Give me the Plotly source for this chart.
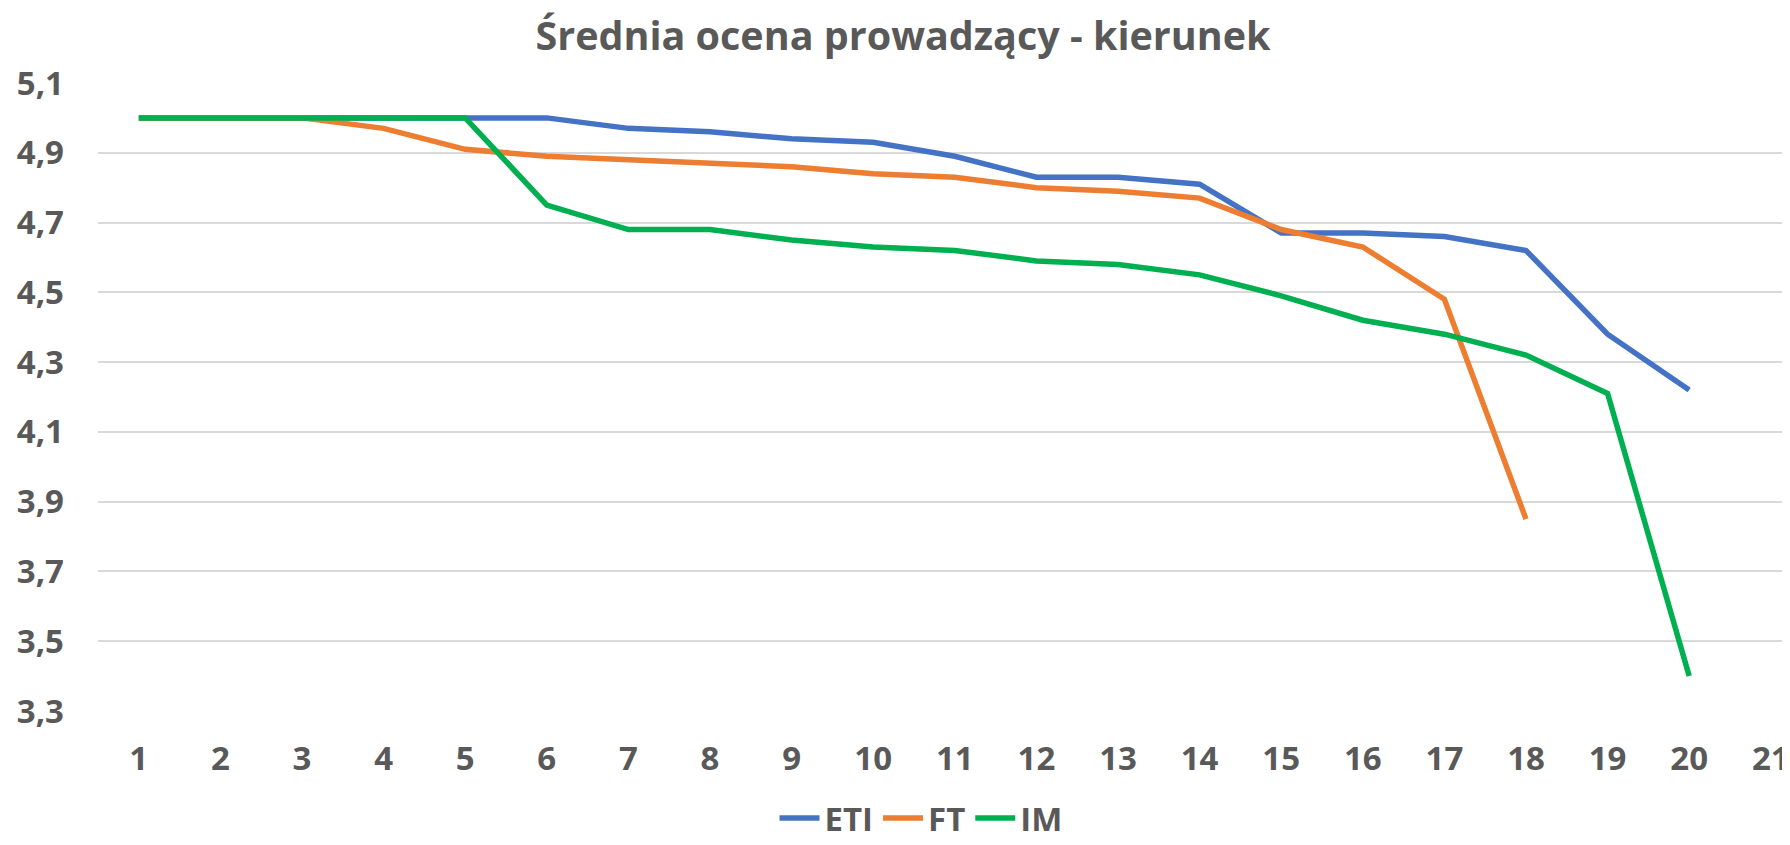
import plotly.graph_objects as go

categories = list(range(1, 21))
eti = [5.0, 5.0, 5.0, 5.0, 5.0, 5.0, 4.97, 4.96, 4.94, 4.93,
       4.89, 4.83, 4.83, 4.81, 4.67, 4.67, 4.66, 4.62, 4.38, 4.22]
ft = [5.0, 5.0, 5.0, 4.97, 4.91, 4.89, 4.88, 4.87, 4.86, 4.84,
      4.83, 4.80, 4.79, 4.77, 4.68, 4.63, 4.48, 3.85]
im = [5.0, 5.0, 5.0, 5.0, 5.0, 4.75, 4.68, 4.68, 4.65, 4.63,
      4.62, 4.59, 4.58, 4.55, 4.49, 4.42, 4.38, 4.32, 4.21, 3.40]
x_ticks = list(range(1, 22))
y_ticks = [3.3, 3.5, 3.7, 3.9, 4.1, 4.3, 4.5, 4.7, 4.9, 5.1]
series_names = ["ETI", "FT", "IM"]
colors = ["#4472C4", "#ED7D31", "#00B050"]

FONT = "Open Sans"
GRAY = "#595959"

# page body has an 8px margin; figure is sized/positioned to compensate
W, H = 1782, 837
L, T, B = 90, 75, 134
PLOT_W, PLOT_H = W - L, H - T - B
CAT_W = 81.6

fig = go.Figure()
for name, vals, col in zip(series_names, [eti, ft, im], colors):
    fig.add_trace(go.Scatter(
        x=categories[:len(vals)], y=vals, name=f"<b>{name}</b>", mode="lines",
        line=dict(color=col, width=5.5, shape="linear"),
    ))

fig.update_layout(
    width=W, height=H,
    paper_bgcolor="white", plot_bgcolor="white",
    margin=dict(l=L, r=0, t=T, b=B, pad=0, autoexpand=False),
    font=dict(family=FONT, color=GRAY, size=33),
    title=dict(
        text="<b>Średnia ocena prowadzący - kierunek</b>",
        font=dict(family=FONT, size=39.5, color=GRAY),
        x=895 / W, xanchor="center", xref="container",
        y=1 - 28 / H, yanchor="middle", yref="container",
    ),
    xaxis=dict(
        range=[0.5, 0.5 + PLOT_W / CAT_W],
        tickmode="array", tickvals=x_ticks, ticktext=[f"<b>{t}</b>" for t in x_ticks],
        showgrid=False, zeroline=False, showline=False, ticks="",
        tickfont=dict(family=FONT, size=33, color=GRAY),
        ticklabelstandoff=25,
    ),
    yaxis=dict(
        range=[3.3, 5.1],
        tickmode="array", tickvals=y_ticks,
        ticktext=[f"<b>{str(v).replace('.', ',')}</b>" for v in y_ticks],
        showgrid=True, gridcolor="#D9D9D9", gridwidth=2,
        zeroline=False, showline=False, ticks="",
        tickfont=dict(family=FONT, size=33, color=GRAY),
        ticklabelstandoff=33,
    ),
    showlegend=True,
    legend=dict(
        orientation="h", x=(913 - L) / PLOT_W, xanchor="center",
        y=-(810 - (H - B)) / PLOT_H, yanchor="middle",
        font=dict(family=FONT, size=33, color=GRAY),
        itemwidth=40, bgcolor="rgba(0,0,0,0)",
    ),
)

fig.write_html("out.html")
